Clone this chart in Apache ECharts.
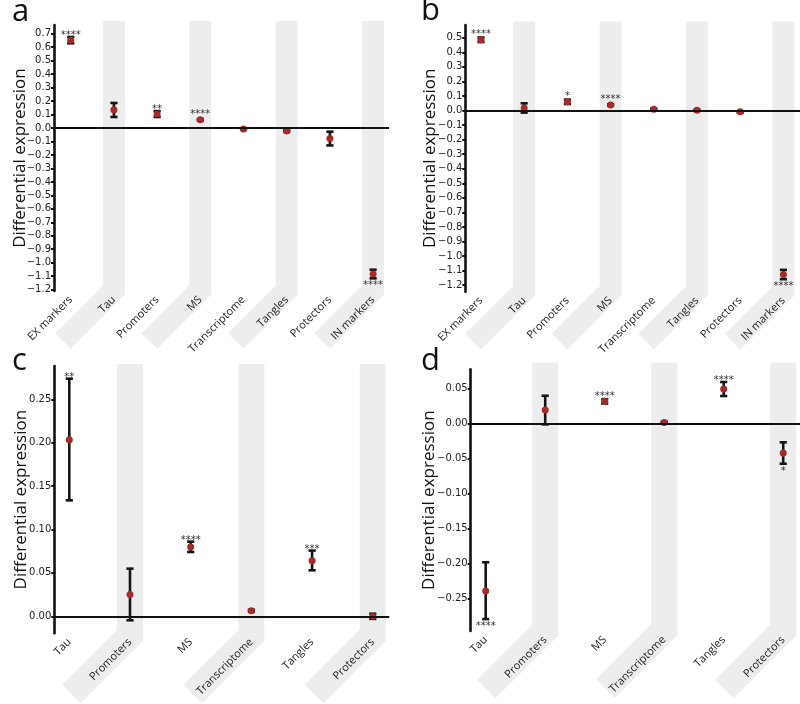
<!DOCTYPE html>
<html><head><meta charset="utf-8">
<script src="https://cdn.jsdelivr.net/npm/echarts@6/dist/echarts.min.js"></script>
<style>html,body{margin:0;padding:0;background:#fff}#c{width:800px;height:704px}</style>
</head><body><div id="c"></div>
<script>
// ---- data ----
const categoriesAB = ['EX markers','Tau','Promoters','MS','Transcriptome','Tangles','Protectors','IN markers'];
const categoriesCD = ['Tau','Promoters','MS','Transcriptome','Tangles','Protectors'];

const aMean = [0.651, 0.136, 0.104, 0.062, -0.007, -0.022, -0.077, -1.084];
const aLow  = [0.629, 0.082, 0.082, 0.056, -0.011, -0.028, -0.129, -1.116];
const aHigh = [0.676, 0.186, 0.126, 0.067, -0.003, -0.016, -0.027, -1.052];
const aStars = ['****','','**','****','','','','****'];
const aTicks = [0.7,0.6,0.5,0.4,0.3,0.2,0.1,0,-0.1,-0.2,-0.3,-0.4,-0.5,-0.6,-0.7,-0.8,-0.9,-1.0,-1.1,-1.2];

const bMean = [0.486, 0.018, 0.060, 0.039, 0.009, 0.002, -0.009, -1.127];
const bLow  = [0.471, -0.014, 0.045, 0.035, 0.005, -0.002, -0.014, -1.159];
const bHigh = [0.502, 0.050, 0.075, 0.043, 0.013, 0.006, -0.004, -1.095];
const bStars = ['****','','*','****','','','','****'];
const bTicks = [0.5,0.4,0.3,0.2,0.1,0,-0.1,-0.2,-0.3,-0.4,-0.5,-0.6,-0.7,-0.8,-0.9,-1.0,-1.1,-1.2];

const cMean = [0.2035, 0.025, 0.0799, 0.0065, 0.0641, 0.0];
const cLow  = [0.1336, -0.0046, 0.0741, 0.0055, 0.053, -0.003];
const cHigh = [0.2738, 0.0549, 0.086, 0.0075, 0.0757, 0.003];
const cStars = ['**','','****','','***',''];
const cTicks = [0.25,0.20,0.15,0.10,0.05,0.00];

const dMean = [-0.239, 0.019, 0.0314, 0.0014, 0.049, -0.0423];
const dLow  = [-0.279, -0.0014, 0.0284, 0.0004, 0.039, -0.0575];
const dHigh = [-0.198, 0.0394, 0.0344, 0.0024, 0.059, -0.027];
const dStars = ['****','','****','','****','*'];
const dTicks = [0.05,0.00,-0.05,-0.10,-0.15,-0.20,-0.25];

const yTitle = 'Differential expression';
const panelLetters = ['a','b','c','d'];

// ---- layout (pixels / axis extents) ----
const panels = [
  {cats:categoriesAB, mean:aMean, low:aLow, high:aHigh, stars:aStars, ticks:aTicks, dec:1,
   left:54, top:25, width:335, height:266, xMin:-0.387, xMax:7.368, yMin:-1.21, yMax:0.765,
   nameGap:25, sw:22, sl:72, stOff:4, bend:-1},
  {cats:categoriesAB, mean:bMean, low:bLow, high:bHigh, stars:bStars, ticks:bTicks, dec:1,
   left:465.3, top:25, width:334.7, height:266.7, xMin:-0.363, xMax:7.384, yMin:-1.245, yMax:0.588,
   nameGap:27, sw:22, sl:72, stOff:3.5, bend:-1},
  {cats:categoriesCD, mean:cMean, low:cLow, high:cHigh, stars:cStars, ticks:cTicks, dec:2,
   left:54.3, top:366, width:335, height:267.3, xMin:-0.247, xMax:5.272, yMin:-0.0196, yMax:0.2884,
   nameGap:25, sw:26, sl:83, stOff:2, bend:2},
  {cats:categoriesCD, mean:dMean, low:dLow, high:dHigh, stars:dStars, ticks:dTicks, dec:2,
   left:470.7, top:369.3, width:329.3, height:261.7, xMin:-0.252, xMax:5.282, yMin:-0.296, yMax:0.0771,
   nameGap:33, sw:26, sl:83, stOff:6.5, bend:-1}
];
const letterPos = [[12,27],[421,26],[12,376],[421,376]];

function fmt(v, dec){
  const s = Math.abs(v).toFixed(dec);
  return (v < -1e-9 ? '\u2212' : '') + s;
}

function stripeRender(cfg){
  return function(params, api){
    const idx = api.value(0);
    const cs = params.coordSys;
    const cx = api.coord([idx, 0])[0];
    const w = cfg.sw, hw = w/2, L = cfg.sl;
    const yTop = cs.y - cfg.stOff;
    const y0 = cs.y + cs.height + cfg.bend;
    const k = 0.2071 * w;
    const r2 = Math.SQRT1_2;
    const Ex = cx - L*r2, Ey = y0 + L*r2;
    const n = hw * r2;
    const pts = [[cx-hw,yTop],[cx+hw,yTop],[cx+hw,y0+k],[Ex+n,Ey+n],[Ex-n,Ey-n],[cx-hw,y0-k]];
    return {type:'polygon', shape:{points:pts}, style:{fill:'#ededed'}};
  };
}

function errRender(cfg){
  return function(params, api){
    const x = api.value(0), lo = api.value(1), hi = api.value(2), m = api.value(3);
    const pLo = api.coord([x, lo]), pHi = api.coord([x, hi]), pM = api.coord([x, m]);
    const s = {stroke:'#151515', lineWidth:2.6, fill:null};
    const hw = 3.6;
    const children = [
      {type:'line', shape:{x1:pLo[0],y1:pLo[1],x2:pHi[0],y2:pHi[1]}, style:s},
      {type:'line', shape:{x1:pLo[0]-hw,y1:pLo[1],x2:pLo[0]+hw,y2:pLo[1]}, style:s},
      {type:'line', shape:{x1:pHi[0]-hw,y1:pHi[1],x2:pHi[0]+hw,y2:pHi[1]}, style:s}
    ];
    const st = cfg.stars[params.dataIndex];
    if (st) {
      let ty;
      if (m < 0) ty = Math.max(pLo[1], pM[1] + 3.5) + 7.5;
      else ty = Math.min(pHi[1], pM[1] - 3.5) - 1.5;
      children.push({type:'text', x:pM[0], y:ty,
        style:{text:st, fill:'#333', fontSize:10, fontFamily:'DejaVu Sans', align:'center', verticalAlign:'middle'}});
    }
    return {type:'group', children};
  };
}

const grid = [], xAxis = [], yAxis = [], series = [];
panels.forEach((p, i) => {
  grid.push({left:p.left, top:p.top, width:p.width, height:p.height, containLabel:false});
  xAxis.push({
    type:'value', gridIndex:i, min:p.xMin, max:p.xMax, z:10,
    axisLine:{show:false, onZero:false}, axisTick:{show:false}, splitLine:{show:false},
    axisLabel:{
      customValues: p.cats.map((c, j) => j),
      formatter: v => p.cats[Math.round(v)],
      rotate:45, margin:7, fontFamily:'Open Sans', fontSize:11, color:'#222', hideOverlap:false
    }
  });
  yAxis.push({
    type:'value', gridIndex:i, min:p.yMin, max:p.yMax, z:10,
    name: yTitle, nameLocation:'middle', nameGap:p.nameGap, nameMoveOverlap:false,
    nameTextStyle:{fontFamily:'Open Sans', fontSize:17, color:'#111'},
    axisLine:{show:true, onZero:false, lineStyle:{color:'#111', width:2.6}},
    axisTick:{show:true, customValues:p.ticks, length:3, lineStyle:{color:'#111', width:2}},
    splitLine:{show:false},
    axisLabel:{customValues:p.ticks, formatter: v => fmt(v, p.dec), fontFamily:'DejaVu Sans', fontSize:10, color:'#222', margin:3}
  });
  const stripeIdx = p.cats.map((c, j) => j).filter(j => j % 2 === 1);
  series.push({type:'custom', xAxisIndex:i, yAxisIndex:i, z:1, clip:false, silent:true,
    renderItem: stripeRender(p), data: stripeIdx.map(j => [j]), encode:{x:0}});
  series.push({type:'line', xAxisIndex:i, yAxisIndex:i, z:2, data:[], silent:true,
    markLine:{symbol:'none', silent:true, animation:false, label:{show:false},
      lineStyle:{color:'#111', width:2.2, type:'solid'}, data:[{yAxis:0}]}});
  series.push({type:'custom', xAxisIndex:i, yAxisIndex:i, z:3, clip:false, silent:true,
    renderItem: errRender(p), encode:{x:0, y:[1,2]},
    data: p.cats.map((c, j) => [j, p.low[j], p.high[j], p.mean[j]])});
  series.push({type:'scatter', xAxisIndex:i, yAxisIndex:i, z:4, silent:true,
    symbol:'circle', symbolSize:7, itemStyle:{color:'#a52a2a', opacity:1},
    data: p.mean.map((v, j) => [j, v])});
});

const chart = echarts.init(document.getElementById('c'), null, {renderer:'canvas'});
chart.setOption({
  animation:false,
  backgroundColor:'#fff',
  grid, xAxis, yAxis, series,
  graphic: panelLetters.map((t, i) => ({type:'text', left:letterPos[i][0], top:letterPos[i][1]-30,
    style:{text:t, fontFamily:'Open Sans', fontSize:31, fill:'#111'}}))
});
</script></body></html>
